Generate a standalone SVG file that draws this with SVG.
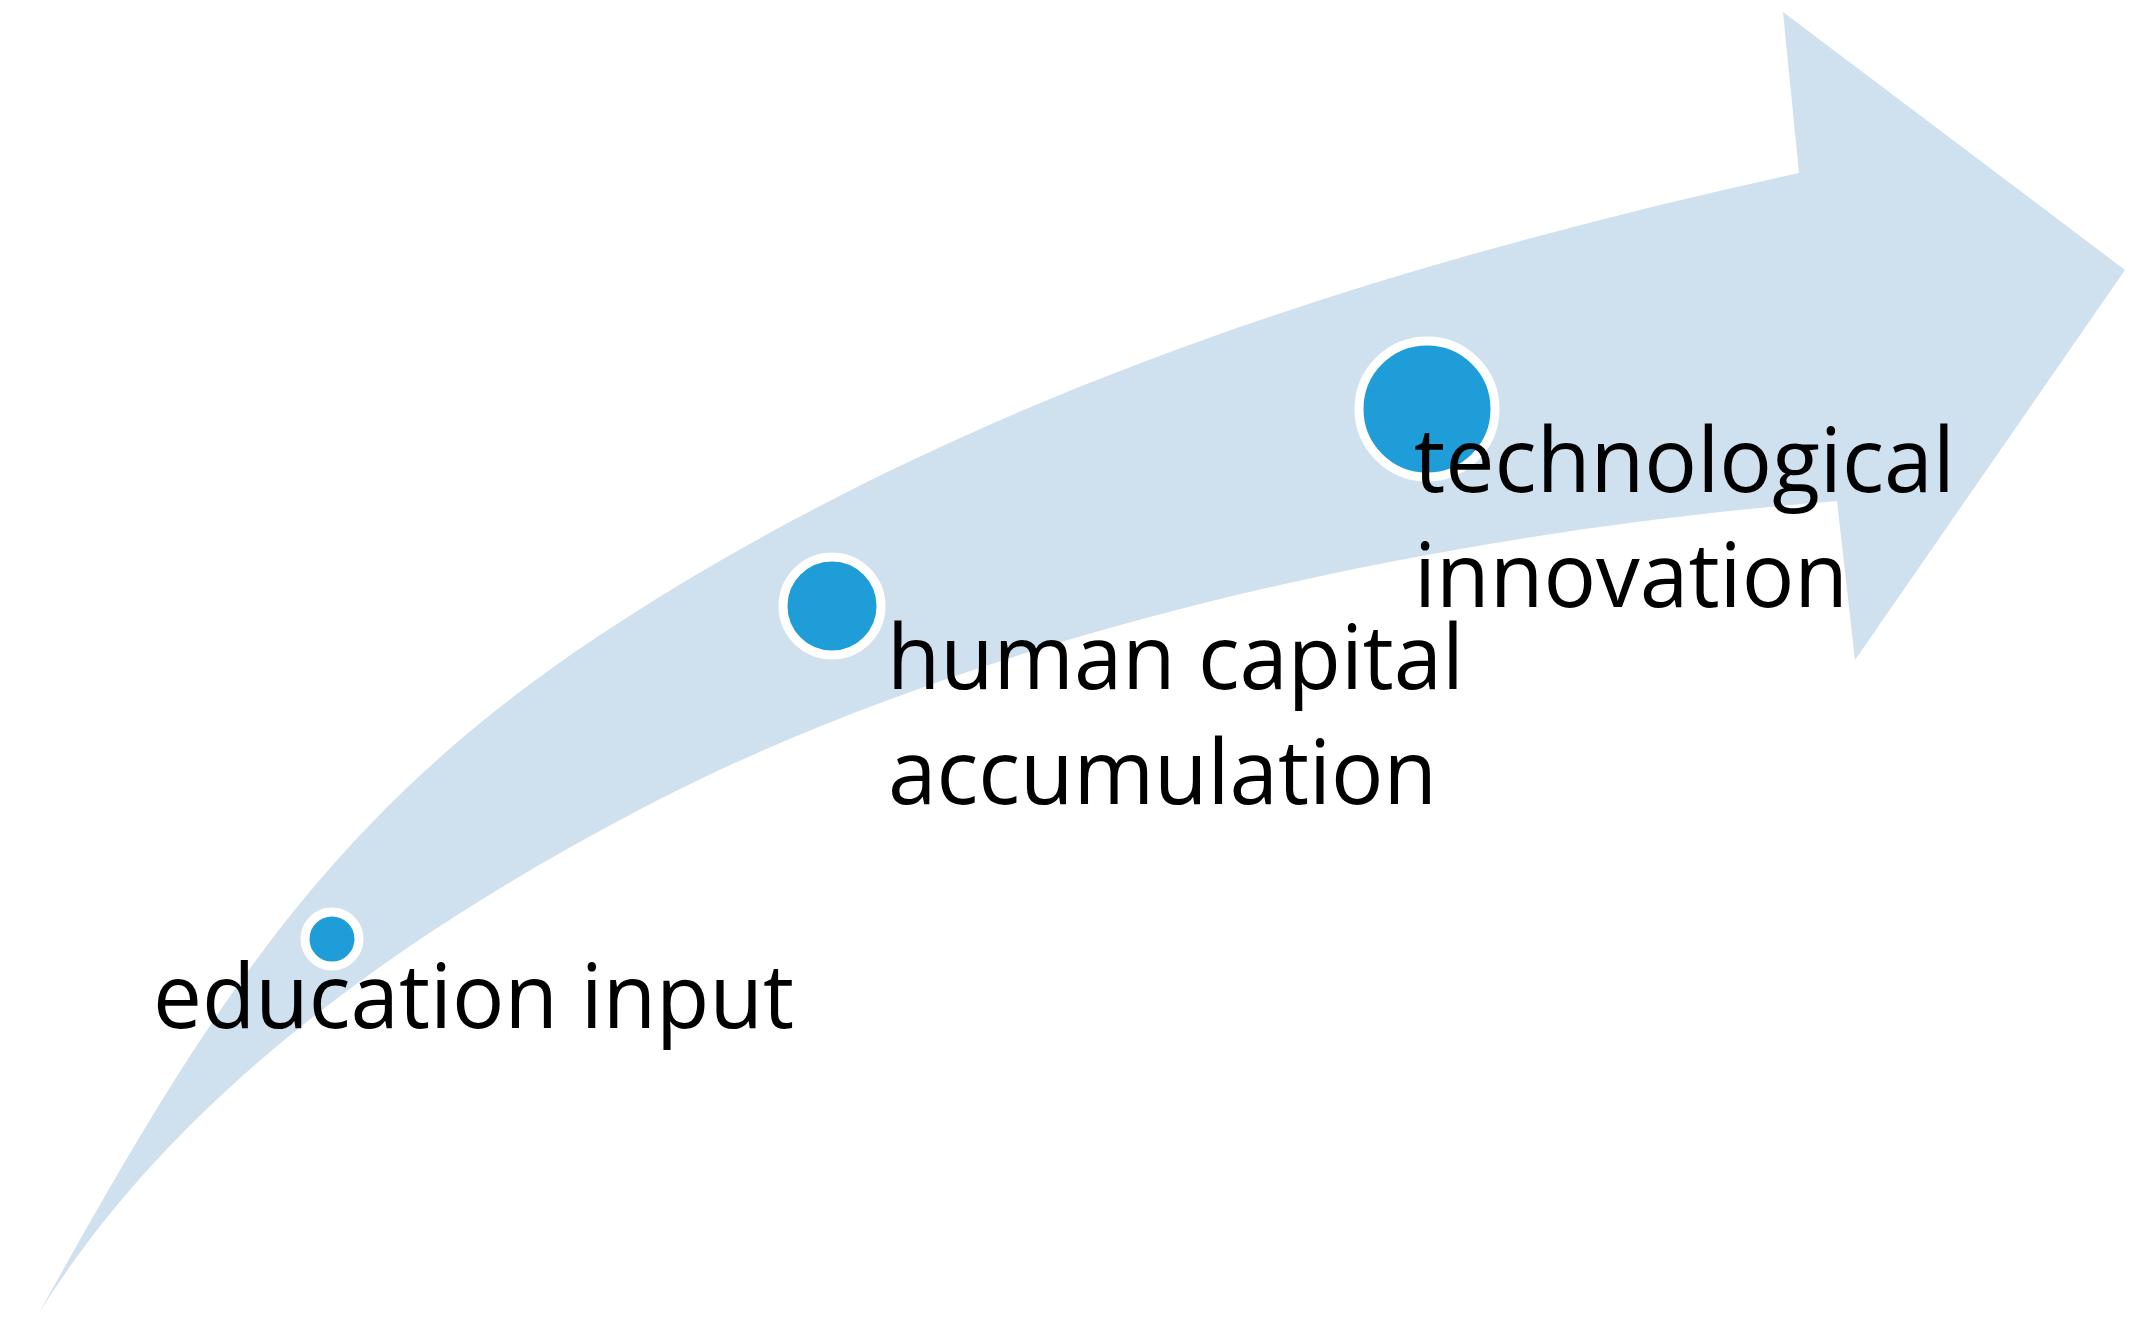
<svg xmlns="http://www.w3.org/2000/svg" width="2142" height="1341" viewBox="0 0 2142 1341">
<style>
.lbl{font-family:"Open Sans","Noto Sans","Liberation Sans",sans-serif;font-size:90px;fill:#000}
.dot{fill:#1F9DD9;stroke:#FFFFFF;stroke-width:9}
</style>
<rect width="2142" height="1341" fill="#FFFFFF"/>
<g id="connectors">
<path id="arrow" fill="#CFE0EF" d="M39,1313 C204,1016 325,817 600,635 C959,398 1379,265 1799,173 L1783,12 L2125,270 L1855,660 L1837,501 C1423,534 968.7,635.1 633,813 C403.3,934.7 176.8,1092.5 39,1313 Z"/>
</g>
<g id="node-education">
<circle class="dot" cx="332" cy="939" r="27"/>
<text class="lbl" x="153" y="1028" textLength="641" lengthAdjust="spacingAndGlyphs">education input</text>
</g>
<g id="node-human">
<circle class="dot" cx="832" cy="606" r="49"/>
<text class="lbl" x="887" y="689" textLength="577" lengthAdjust="spacingAndGlyphs">human capital</text>
<text class="lbl" x="888" y="804" textLength="549" lengthAdjust="spacingAndGlyphs">accumulation</text>
</g>
<g id="node-tech">
<circle class="dot" cx="1427" cy="409" r="68"/>
<text class="lbl" x="1414" y="492" textLength="541" lengthAdjust="spacingAndGlyphs">technological</text>
<text class="lbl" x="1414" y="607" textLength="434" lengthAdjust="spacingAndGlyphs">innovation</text>
</g>
</svg>
